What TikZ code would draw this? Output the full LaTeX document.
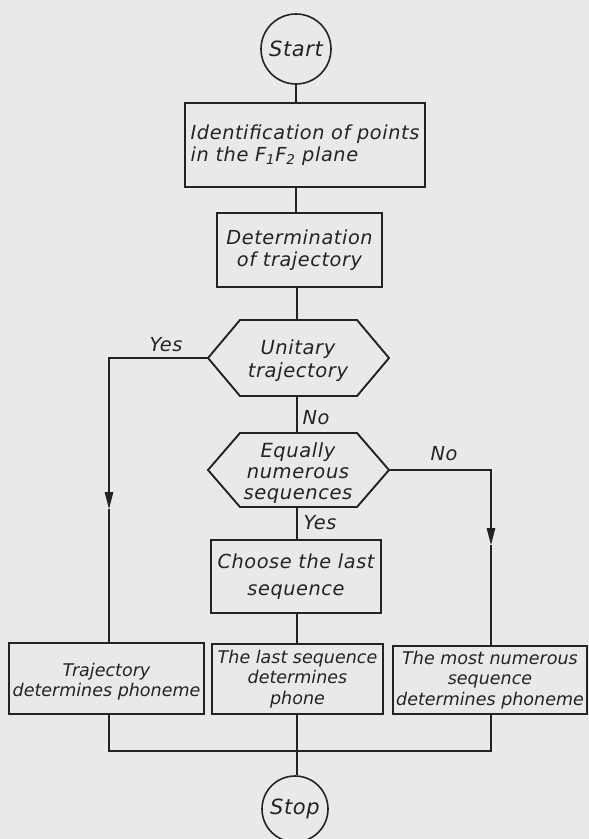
\documentclass[tikz,border=0pt]{standalone}
\usepackage{fontspec}
\setmainfont{DejaVu Sans}
\newfontfamily\spacedfont[LetterSpace=3]{DejaVu Sans}
\usetikzlibrary{calc,arrows.meta}
\definecolor{paper}{RGB}{233,233,231}
\definecolor{inkc}{RGB}{35,35,35}
\begin{document}
\begin{tikzpicture}[x=1pt,y=-1pt,
  txt/.style={font=\spacedfont\fontsize{19.3}{21.5}\selectfont\itshape, align=center, text=inkc, inner sep=0pt},
  smalltxt/.style={txt, font=\fontsize{17.5}{20.5}\selectfont\itshape},
  boxn/.style={draw=inkc, line width=1.9pt},
  circn/.style={txt, font=\spacedfont\fontsize{21}{24}\selectfont\itshape, circle, draw=inkc, line width=1.6pt},
  hexline/.style={draw=inkc, line width=1.9pt, line join=miter},
  conn/.style={draw=inkc, line width=1.2pt},
  tip/.style={-{Triangle[length=17pt,width=8.5pt]}},
  lbl/.style={txt}]
\fill[paper] (0,0) rectangle (589,839);
\useasboundingbox (0,0) rectangle (589,839);

% nodes
\node[circn, minimum size=70] (start) at (296,49) {Start};
\node[txt, align=left, boxn, minimum width=240, minimum height=84] (b1) at (305,145) {Identification of points\\in the F\textsubscript{1}F\textsubscript{2} plane};
\node[txt, boxn, minimum width=165, minimum height=74] (b2) at (299.5,250) {Determination\\of trajectory};

\coordinate (hex1w) at (208,358);
\coordinate (hex1e) at (389,358);
\coordinate (hex1n) at (297,320);
\coordinate (hex1s) at (297,396);
\node[txt, font=\spacedfont\fontsize{19.5}{23}\selectfont\itshape] (hex1) at (298,361) {Unitary\\trajectory};
\draw[hexline] (hex1w) -- ++(32,-38) -- ++(117,0) -- (hex1e) -- ++(-32,38) -- ++(-117,0) -- cycle;

\coordinate (hex2w) at (208,470);
\coordinate (hex2e) at (389,470);
\coordinate (hex2n) at (297,433);
\coordinate (hex2s) at (297,507);
\node[txt, font=\spacedfont\fontsize{19.5}{21}\selectfont\itshape] (hex2) at (298,473) {Equally\\numerous\\sequences};
\draw[hexline] (hex2w) -- ++(32,-37) -- ++(117,0) -- (hex2e) -- ++(-32,37) -- ++(-117,0) -- cycle;

\node[txt, font=\spacedfont\fontsize{19.3}{27}\selectfont\itshape, boxn, minimum width=170, minimum height=73] (choose) at (296,576.5) {Choose the last\\sequence};

\node[smalltxt, boxn, minimum width=195, minimum height=71] (lb) at (106.5,678.5) {\rule{0pt}{20pt}Trajectory\\determines phoneme};
\node[smalltxt, boxn, minimum width=171, minimum height=70] (mb) at (297.5,679) {The last sequence\\determines\\phone};
\node[smalltxt, boxn, minimum width=194, minimum height=68] (rb) at (490,680) {The most numerous\\sequence\\determines phoneme};

\node[circn, minimum size=66] (stop) at (295,809) {Stop};

\coordinate (larr) at (109,509);
\coordinate (rarr) at (491,545);
\coordinate (join) at (297,751);

% connectors
\draw[conn] (start.south) -- (start.south |- b1.north);
\draw[conn] (start |- b1.south) -- (start |- b2.north);
\draw[conn] (hex1n |- b2.south) -- (hex1n);
\draw[conn] (hex1s) -- (hex2n);
\draw[conn] (hex2s) -- (hex2s |- choose.north);
\draw[conn] (hex2s |- choose.south) -- (hex2s |- mb.north);
\draw[conn] (hex2s |- mb.south) -- (hex2s |- stop.north);

\draw[conn, tip] (hex1w) -| (larr);
\draw[conn] (larr) -- (larr |- lb.north);
\draw[conn, tip] (hex2e) -| (rarr);
\draw[conn] (rarr) -- (rarr |- rb.north);
\draw[conn] (larr |- lb.south) -- (larr |- join) -- (rarr |- join) -- (rarr |- rb.south);

% labels
\node[lbl] (yes1) at (166,345) {Yes};
\node[lbl] (no1) at (316,418) {No};
\node[lbl] (no2) at (444,454) {No};
\node[lbl] (yes2) at (320,523) {Yes};
\end{tikzpicture}
\end{document}
